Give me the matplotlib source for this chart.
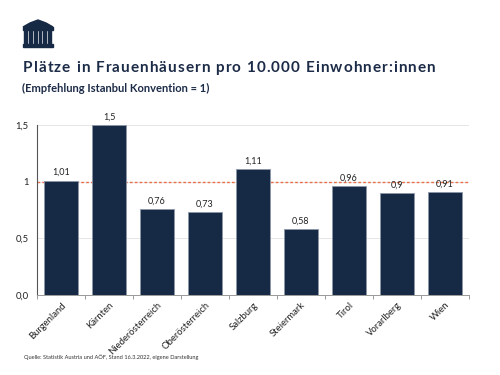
import matplotlib.pyplot as plt
import matplotlib.patches as mpatches
import numpy as np

plt.rcParams['font.family'] = ['Lato', 'DejaVu Sans']

laender = ['Burgenland', 'Kärnten', 'Niederösterreich', 'Oberösterreich', 'Salzburg',
           'Steiermark', 'Tirol', 'Vorarlberg', 'Wien']
plaetze = [1.01, 1.5, 0.76, 0.73, 1.11, 0.58, 0.96, 0.9, 0.91]
labels = ['1,01', '1,5', '0,76', '0,73', '1,11', '0,58', '0,96', '0,9', '0,91']
y_ticks = [0, 0.5, 1, 1.5]
y_labels = ['0,0', '0,5', '1', '1,5']
empfehlung = 1

titel = 'Plätze in Frauenhäusern pro 10.000 Einwohner:innen'
untertitel = '(Empfehlung Istanbul Konvention = 1)'
quelle = 'Quelle: Statistik Austria und AÖF, Stand 16.3.2022, eigene Darstellung'

navy = '#172a45'

fig = plt.figure(figsize=(5, 3.75), dpi=100)
ax = fig.add_axes([0.074, 0.2133, 0.864, 0.4534])

x = np.arange(len(laender))
ax.bar(x, plaetze, width=0.72, color=navy, edgecolor='#8a96a8', linewidth=0.6, zorder=3)
for xi, v, l in zip(x, plaetze, labels):
    ax.text(xi, v + 0.03, l, ha='center', va='bottom', fontsize=6.5, color='#222222', zorder=4)

ax.axhline(empfehlung, color='#e8704a', linestyle=(0, (2, 1.5)), linewidth=1.0, zorder=2)

ax.set_xlim(-0.5, len(laender) - 0.5)
ax.set_ylim(0, 1.5)
ax.set_yticks(y_ticks)
ax.set_yticklabels(y_labels, fontsize=6.8, color='#222222')
ax.yaxis.grid(True, color='#e6e6e6', linewidth=0.7, zorder=0)
ax.tick_params(axis='y', length=0, pad=6)

ax.set_xticks(x)
ax.set_xticklabels(laender, rotation=45, ha='right', rotation_mode='anchor', fontsize=6.8, color='#222222')
ax.tick_params(axis='x', length=0, pad=4)
ax.set_xticks(np.arange(-0.5, len(laender), 1), minor=True)
ax.tick_params(axis='x', which='minor', length=3, color='#999999', width=0.7)

for s in ['top', 'right']:
    ax.spines[s].set_visible(False)
ax.spines['left'].set_color('#555555')
ax.spines['left'].set_linewidth(0.8)
ax.spines['bottom'].set_color('#999999')
ax.spines['bottom'].set_linewidth(0.7)

# Logo (Parlament), in Pixeln gedacht
tf = fig.transFigure
px = lambda v: v / 500
py = lambda v: 1 - v / 375
fig.patches.append(mpatches.Polygon([[px(23), py(27)], [px(30), py(23)], [px(38), py(20)], [px(46), py(23)],
                                     [px(53), py(27)]], closed=True, transform=tf, color=navy))
fig.patches.append(mpatches.Rectangle((px(23), py(30)), px(30), 3 / 375, transform=tf, color=navy))
for cx in [24, 29, 34, 43, 48]:
    fig.patches.append(mpatches.Rectangle((px(cx), py(44)), px(3), 14 / 375, transform=tf, color=navy))
fig.patches.append(mpatches.Rectangle((px(39), py(44)), px(1.5), 22 / 375, transform=tf, color=navy))
fig.patches.append(mpatches.Rectangle((px(23), py(47)), px(30), 3 / 375, transform=tf, color=navy))

# Titel mit Sperrung
renderer = fig.canvas.get_renderer()
x0 = 0.046 * fig.bbox.width
sperrung = 1.05
for i, ch in enumerate(titel):
    if i == 0:
        w = 0
    else:
        tmp = fig.text(0, 0, titel[:i], fontsize=11, fontweight='bold')
        w = tmp.get_window_extent(renderer).width
        tmp.remove()
    fig.text((x0 + w + i * sperrung) / fig.bbox.width, 0.818, ch, fontsize=11,
             fontweight='bold', color='#1c2b47', va='center', ha='left')

fig.text(0.044, 0.765, untertitel, fontsize=8,
         fontweight='bold', color='#1c2b47', va='center', ha='left')
fig.text(0.048, 0.048, quelle, fontsize=4.1, color='#333333', va='center', ha='left')

fig.savefig('out.png', dpi=100)
